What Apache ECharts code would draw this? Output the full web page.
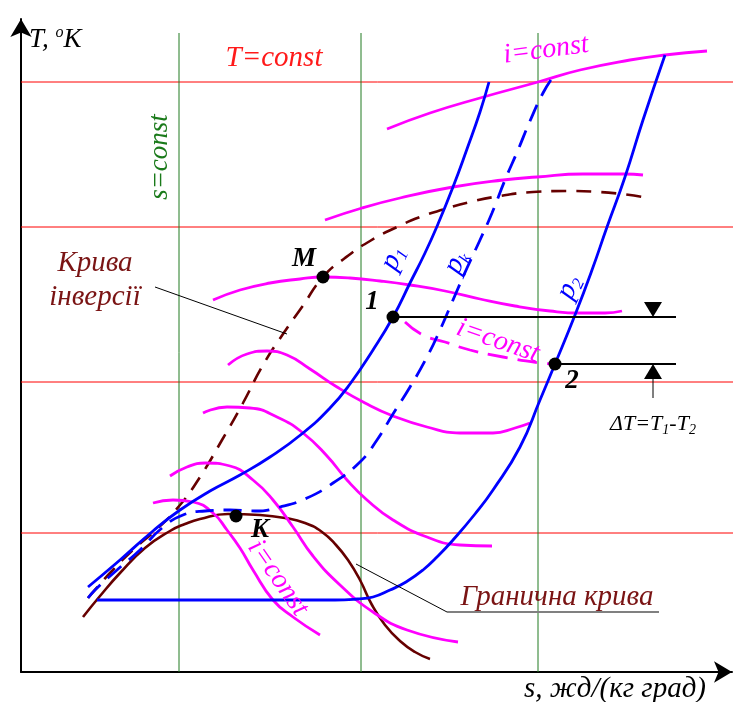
<!DOCTYPE html>
<html>
<head>
<meta charset="utf-8">
<script src="https://cdn.jsdelivr.net/npm/echarts@6/dist/echarts.min.js"></script>
<style>
  html, body { margin: 0; padding: 0; background: #fff; }
  #chart { width: 742px; height: 702px; }
</style>
</head>
<body>
<div id="chart"></div>
<script>
// s–T diagram of gas throttling: isobars, isenthalps, boundary and inversion curves.
// Coordinates: s (entropy, arbitrary units) along x, T (temperature, arbitrary units) along y.

const S_MAX = 711;
const T_MAX = 653;

const isothermT = [590, 445, 290, 139];
const isentropeS = [158, 340, 517];
const isentropeTop = 639;

const boundaryCurve = [[62,55],[79,76],[99,99],[124,124],[149,141],[164,148],[179,153],[207,158],[239,157],[264,154],[284,149],[301,140],[315,127],[327,112],[339,92],[351,67],[364,47],[379,31],[394,20],[409,13]];
const inversionCurve = [[67,74],[89,99],[112,122],[137,144],[159,167],[179,195],[201,232],[222,269],[242,307],[262,338],[281,365],[302,395],[324,414],[349,431],[376,445],[399,455],[424,463],[449,470],[479,476],[512,480],[546,481],[579,480],[622,475]];

const isobarP1 = [[67,85],[99,112],[132,141],[159,162],[189,181],[219,197],[249,215],[282,239],[309,264],[329,288],[352,322],[372,355],[389,389],[404,419],[417,448],[432,485],[446,523],[459,560],[468,590]];
const isobarPk = [[67,74],[74,82],[96,102],[119,122],[141,144],[162,157],[184,161],[209,162],[234,161],[259,165],[286,174],[312,189],[339,210],[356,232],[372,258],[389,285],[406,315],[419,342],[432,372],[446,404],[459,432],[471,459],[484,492],[497,522],[509,551],[522,579],[532,595]];
const isobarP2 = [[76,72],[130,72],[180,72],[230,72],[280,72],[314,72],[336,73],[352,75],[369,82],[385,90],[402,102],[417,116],[432,132],[454,158],[472,182],[499,225],[519,272],[534,308],[554,357],[571,402],[586,445],[604,495],[622,552],[644,617]];

const isenthalpA = [[366,543],[409,559],[459,574],[517,590],[559,602],[609,612],[644,617],[686,621]];
const isenthalpB = [[304,452],[341,464],[379,474],[432,485],[482,492],[516,495],[562,498],[604,498],[622,497]];
const isenthalpC = [[192,372],[219,382],[249,389],[279,393],[302,395],[329,394],[359,391],[389,387],[424,381],[459,373],[494,366],[529,361],[559,359],[584,359],[601,361]];
const isenthalpD = [[207,307],[226,318],[246,321],[266,317],[289,303],[316,285],[344,269],[372,256],[406,245],[439,239],[472,239],[494,244],[509,249]];
const isenthalpE = [[182,259],[206,265],[229,264],[256,255],[282,239],[306,216],[326,192],[346,172],[372,152],[406,135],[439,127],[471,126]];
const isenthalpF = [[149,196],[166,205],[184,209],[209,206],[232,192],[252,172],[272,145],[292,116],[319,87],[352,60],[386,42],[437,30]];
const isenthalpG = [[132,169],[152,172],[172,170],[192,159],[206,142],[219,124],[232,102],[252,72],[272,55],[299,37]];
const throttleIsenthalp = [[384,350],[402,337],[424,330],[449,322],[482,315],[519,309],[534,308]];

const T1 = 355, T2 = 308;
const keyPointNames = ['M', '1', '2', 'K'];
const keyPointValues = [[302,395],[372,T1],[534,T2],[215,156]];

const inversionLeader = [[134,385],[266,338]];
const boundaryLeader = [[335,108],[426,60]];
const boundaryUnderline = [[426,60],[638,60]];
const deltaLineEnd = 655;
const deltaArrowS = 632;
const deltaStemEnd = 274;

const BLUE = '#0000ff', MAGENTA = '#ff00ff', BROWN = '#660000', LABEL_RED = '#7a1414';
const SERIF = '"Liberation Serif", "Times New Roman", serif';
const F = (size, style = 'italic', weight = 'normal') => `${style} ${weight} ${size}px ${SERIF}`;

function curve(data, color, width, dash, z) {
  return {
    type: 'line', data, smooth: 0.5, symbol: 'none', clip: false, silent: true,
    lineStyle: { color, width, type: dash || 'solid', cap: 'butt' }, z: z || 3
  };
}
function straight(data, color, width, z) {
  return {
    type: 'line', data, smooth: false, symbol: 'none', clip: false, silent: true,
    lineStyle: { color, width }, z: z || 2
  };
}

const series = [];
isothermT.forEach(T => series.push(straight([[0, T], [721, T]], '#ff0000', 1, 1)));
isentropeS.forEach(s => series.push(straight([[s, 0], [s, isentropeTop]], '#217a21', 1, 1)));

series.push(curve(boundaryCurve, BROWN, 2.6));
series.push(curve(inversionCurve, BROWN, 2.6, [15, 10]));
[isenthalpA, isenthalpB, isenthalpC, isenthalpD, isenthalpE, isenthalpF, isenthalpG]
  .forEach(d => series.push(curve(d, MAGENTA, 2.8, null, 3)));
series.push(curve(throttleIsenthalp, MAGENTA, 2.8, [20, 10], 3));
series.push(curve(isobarP1, BLUE, 2.8, null, 4));
series.push(curve(isobarPk, BLUE, 2.8, [18, 10], 4));
series.push(curve(isobarP2, BLUE, 2.8, null, 4));

series.push(straight(inversionLeader, '#000', 1, 5));
series.push(straight(boundaryLeader, '#000', 1, 5));
series.push(straight(boundaryUnderline, '#808080', 2, 5));
series.push(straight([[keyPointValues[1][0], T1], [deltaLineEnd, T1]], '#000', 2, 5));
series.push(straight([[keyPointValues[2][0], T2], [deltaLineEnd, T2]], '#000', 2, 5));

const pointLabelOffsets = [[-19, -18], [-21, -15], [17, 17], [24, 14]];
series.push({
  type: 'scatter', symbolSize: 13, clip: false, silent: true, z: 10,
  itemStyle: { color: '#000', opacity: 1 },
  label: { show: true, position: 'inside', color: '#000', fontSize: 27, fontStyle: 'italic',
    fontWeight: 'bold', fontFamily: SERIF },
  data: keyPointNames.map((n, i) => ({
    name: n, value: keyPointValues[i],
    label: { formatter: n, offset: pointLabelOffsets[i] }
  }))
});

function txt(text, x, y, color, size, opt) {
  opt = opt || {};
  const align = opt.align || 'center';
  return {
    type: 'text', x, y, rotation: opt.rot || 0, z: 100, silent: true,
    style: {
      text, x: 0, y: 0, fill: color, font: F(size, opt.fs || 'italic', opt.fw || 'normal'),
      align, textAlign: align, verticalAlign: 'middle', textVerticalAlign: 'middle',
      rich: opt.rich
    }
  };
}
function pRich(color) {
  return {
    m: { font: F(29), fill: color, color, lineHeight: 32 },
    sub: { font: F(17), fill: color, color, verticalAlign: 'bottom' }
  };
}

const labels = [
  txt('{m|T, }{sup|o}{m|K}', 29, 40, '#000', 27, { align: 'left', rich: {
    m: { font: F(27), fill: '#000', lineHeight: 30 },
    sup: { font: F(16), fill: '#000', verticalAlign: 'top' } } }),
  txt('s, жд/(кг град)', 706, 689, '#000', 29, { align: 'right' }),
  txt('T=const', 274, 58, '#ff1a1a', 29),
  txt('s=const', 160, 157, '#1a7a1a', 27, { rot: Math.PI / 2 }),
  txt('i=const', 546, 50, MAGENTA, 28, { rot: 0.13 }),
  txt('Крива', 95, 263, LABEL_RED, 29),
  txt('інверсії', 95, 297, LABEL_RED, 29),
  txt('Гранична крива', 557, 597, LABEL_RED, 29),
  txt('i=const', 498, 341, MAGENTA, 28, { rot: -0.33 }),
  txt('i=const', 278, 578, MAGENTA, 28, { rot: -0.96 }),
  txt('{m|p}{sub|1}', 393, 258, BLUE, 29, { rot: 1.13, rich: pRich(BLUE) }),
  txt('{m|p}{sub|k}', 456, 262, BLUE, 29, { rot: 1.13, rich: pRich(BLUE) }),
  txt('{m|p}{sub|2}', 569, 287, BLUE, 29, { rot: 1.13, rich: pRich(BLUE) }),
  txt('{m|ΔT=T}{sub|1}{m|-T}{sub|2}', 653, 424, '#000', 22, { rich: {
    m: { font: F(22), fill: '#000', lineHeight: 26 },
    sub: { font: F(14), fill: '#000', verticalAlign: 'bottom' } } })
];

const chart = echarts.init(document.getElementById('chart'), null, { renderer: 'canvas' });
const axisCommon = {
  type: 'value', axisLabel: { show: false }, axisTick: { show: false }, splitLine: { show: false },
  axisLine: { show: true, onZero: false, symbol: ['none', 'arrow'], symbolSize: [16, 18],
    lineStyle: { color: '#000', width: 2 } }
};
chart.setOption({
  animation: false,
  backgroundColor: '#fff',
  grid: { left: 21, top: 19, right: 10, bottom: 30, containLabel: false },
  xAxis: Object.assign({}, axisCommon, { min: 0, max: S_MAX }),
  yAxis: Object.assign({}, axisCommon, { min: 0, max: T_MAX }),
  series
});

// Arrowheads marking the temperature drop between points 1 and 2
const pTop = chart.convertToPixel({ gridIndex: 0 }, [deltaArrowS, T1]);
const pBot = chart.convertToPixel({ gridIndex: 0 }, [deltaArrowS, T2]);
const stem = chart.convertToPixel({ gridIndex: 0 }, [deltaArrowS, deltaStemEnd]);
const hw = 9, ah = 15;
labels.push(
  { type: 'polygon', z: 100, silent: true, shape: { points: [[pTop[0] - hw, pTop[1] - ah], [pTop[0] + hw, pTop[1] - ah], [pTop[0], pTop[1]]] }, style: { fill: '#000' } },
  { type: 'polygon', z: 100, silent: true, shape: { points: [[pBot[0] - hw, pBot[1] + ah], [pBot[0] + hw, pBot[1] + ah], [pBot[0], pBot[1]]] }, style: { fill: '#000' } },
  { type: 'line', z: 100, silent: true, shape: { x1: pBot[0], y1: pBot[1] + ah, x2: stem[0], y2: stem[1] }, style: { stroke: '#000', lineWidth: 1 } }
);
chart.setOption({ graphic: { elements: labels } });
</script>
</body>
</html>
